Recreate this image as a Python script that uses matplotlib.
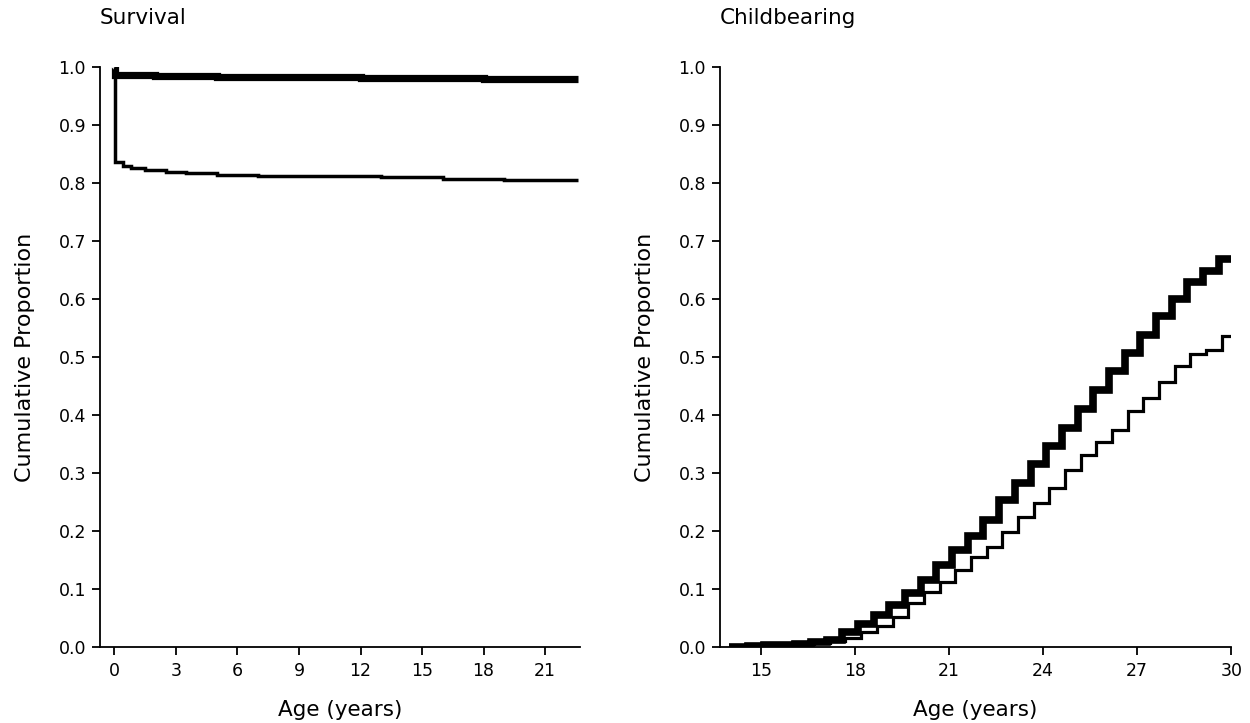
import matplotlib
matplotlib.use("Agg")
import matplotlib.pyplot as plt

plt.rcParams['font.family'] = ['DejaVu Sans']

# ---- Survival panel data (step functions) ----
surv_t_a = [0.0, 0.03, 2.0, 5.0, 8.0, 12.0, 15.0, 18.0, 21.0, 22.6]
surv_v_a = [1.0, 0.986, 0.985, 0.984, 0.983, 0.982, 0.981, 0.980, 0.979, 0.979]

surv_t_b = [0.0, 0.03, 0.4, 0.8, 1.5, 2.5, 3.5, 5.0, 7.0, 10.0, 13.0, 16.0, 19.0, 22.6]
surv_v_b = [1.0, 0.836, 0.829, 0.826, 0.823, 0.820, 0.817, 0.815, 0.813, 0.812, 0.810, 0.808, 0.806, 0.806]

# ---- Childbearing panel data (step functions) ----
birth_t_a = [14.0, 14.1, 14.6, 15.1, 15.6, 16.1, 16.6, 17.1, 17.6, 18.1, 18.6, 19.1, 19.6,
             20.1, 20.6, 21.1, 21.6, 22.1, 22.6, 23.1, 23.6, 24.1, 24.6, 25.1, 25.6,
             26.1, 26.6, 27.1, 27.6, 28.1, 28.6, 29.1, 29.6, 30.0]
birth_v_a = [0.0, 0.001, 0.002, 0.003, 0.004, 0.006, 0.009, 0.013, 0.026, 0.039, 0.055,
             0.072, 0.093, 0.116, 0.142, 0.168, 0.191, 0.219, 0.254, 0.283, 0.315,
             0.346, 0.378, 0.410, 0.444, 0.476, 0.508, 0.538, 0.571, 0.600, 0.629,
             0.648, 0.669, 0.669]

birth_t_b = [14.0, 14.2, 14.7, 15.2, 15.7, 16.2, 16.7, 17.2, 17.7, 18.2, 18.7, 19.2, 19.7,
             20.2, 20.7, 21.2, 21.7, 22.2, 22.7, 23.2, 23.7, 24.2, 24.7, 25.2, 25.7,
             26.2, 26.7, 27.2, 27.7, 28.2, 28.7, 29.2, 29.7, 30.0]
birth_v_b = [0.0, 0.001, 0.002, 0.003, 0.004, 0.005, 0.007, 0.010, 0.016, 0.026, 0.036,
             0.052, 0.076, 0.095, 0.112, 0.133, 0.156, 0.173, 0.198, 0.225, 0.248,
             0.275, 0.306, 0.332, 0.354, 0.375, 0.408, 0.430, 0.458, 0.484, 0.505,
             0.513, 0.536, 0.536]

surv_xticks = [0, 3, 6, 9, 12, 15, 18, 21]
birth_xticks = [15, 18, 21, 24, 27, 30]
yticks = [0.0, 0.1, 0.2, 0.3, 0.4, 0.5, 0.6, 0.7, 0.8, 0.9, 1.0]

fig = plt.figure(figsize=(12.5, 7.23), dpi=100)
ax1 = fig.add_axes([0.080, 0.105, 0.384, 0.802])
ax2 = fig.add_axes([0.576, 0.105, 0.409, 0.802])

line_kw = dict(color='black', solid_joinstyle='miter', solid_capstyle='butt')
ax1.step(surv_t_a, surv_v_a, where='post', lw=5.2, **line_kw)
ax1.step(surv_t_b, surv_v_b, where='post', lw=2.5, **line_kw)
ax2.step(birth_t_a, birth_v_a, where='post', lw=5.5, **line_kw)
ax2.step(birth_t_b, birth_v_b, where='post', lw=2.3, **line_kw)

ax1.set_xlim(-0.7, 22.7)
ax2.set_xlim(13.7, 30.0)
ax1.set_xticks(surv_xticks)
ax2.set_xticks(birth_xticks)

for ax, title in ((ax1, 'Survival'), (ax2, 'Childbearing')):
    ax.set_ylim(0, 1.0)
    ax.set_yticks(yticks)
    ax.set_yticklabels([f"{v:.1f}" for v in yticks])
    for s in ('top', 'right'):
        ax.spines[s].set_visible(False)
    for s in ('left', 'bottom'):
        ax.spines[s].set_linewidth(1.3)
    ax.tick_params(axis='both', direction='out', length=6, width=1.3,
                   labelsize=12.5, pad=4)
    ax.tick_params(axis='x', pad=5)
    ax.set_ylabel('Cumulative Proportion', fontsize=16, labelpad=17)
    ax.set_xlabel('Age (years)', fontsize=15.5, labelpad=14)
    ax.text(0.0, 1.085, title, transform=ax.transAxes, fontsize=15.5,
            ha='left', va='center')

fig.savefig('out.png', dpi=100)
